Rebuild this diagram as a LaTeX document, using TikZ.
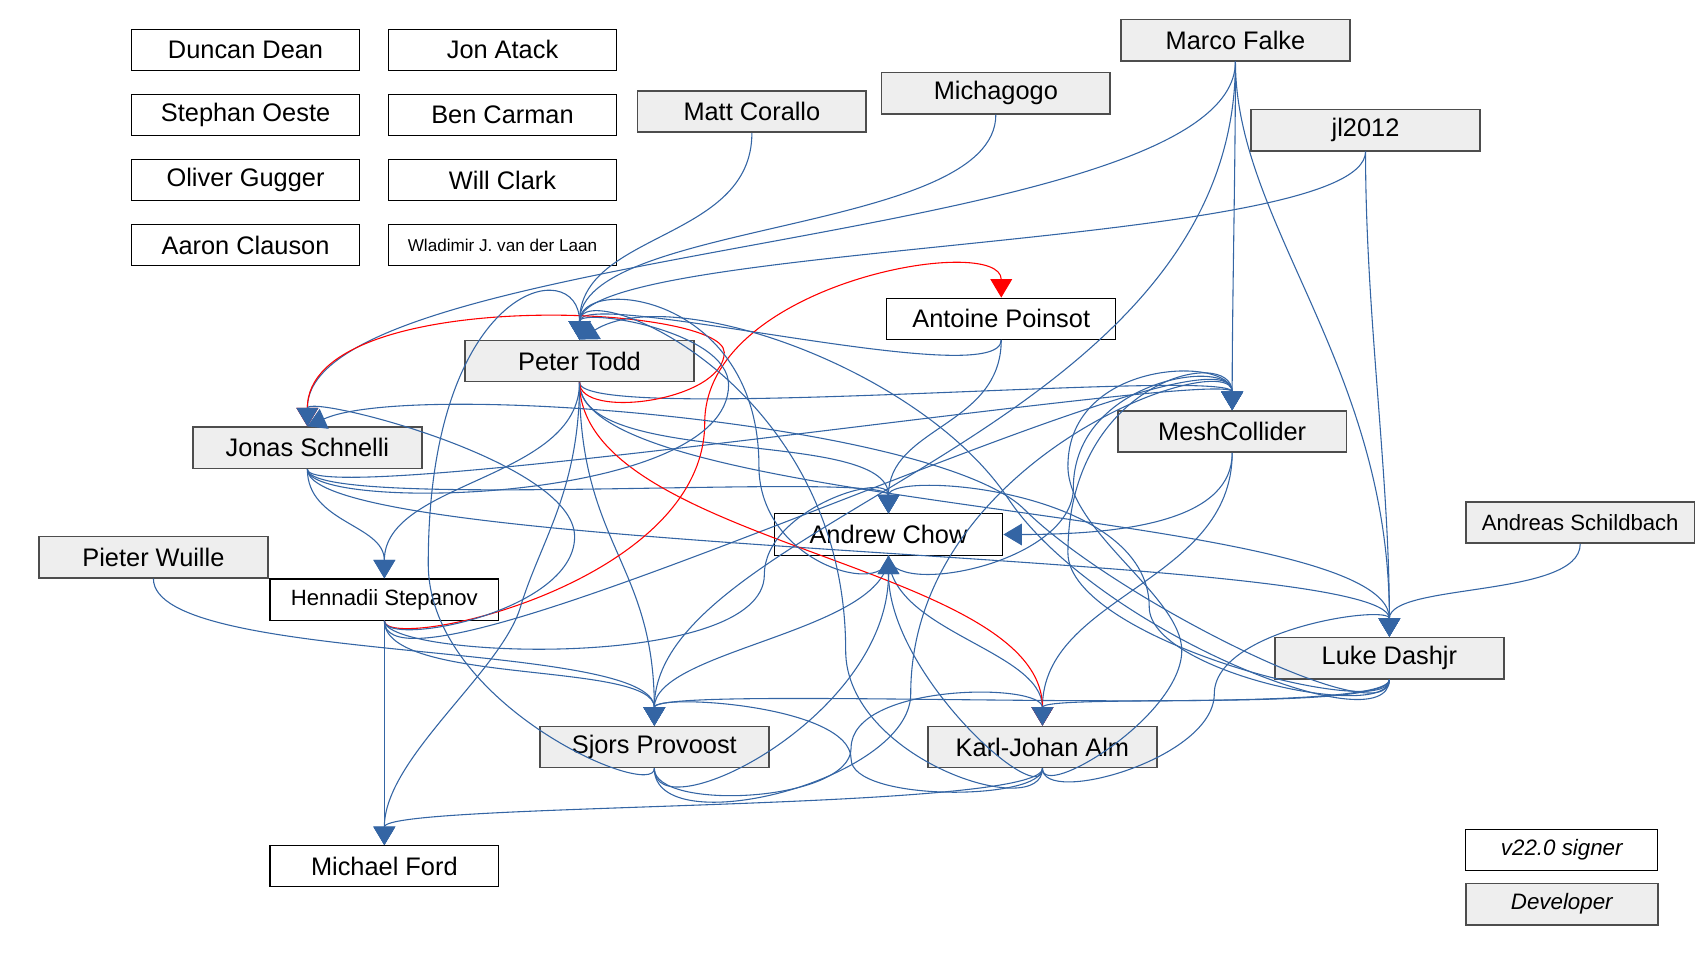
\documentclass[tikz,border=0pt]{standalone}
\usepackage{fontspec}
\setmainfont{Liberation Sans}
\usetikzlibrary{arrows.meta}

\definecolor{edgeblue}{HTML}{3465A4}
\definecolor{devfill}{HTML}{EEEEEE}
\definecolor{devline}{HTML}{4D4D4D}

\tikzset{
  box/.style={rectangle, minimum width=105.5pt, minimum height=19pt, inner sep=0pt, font=\fontsize{11.7}{14}\selectfont},
  dev/.style={box, draw=devline, fill=devfill, line width=0.75pt},
  signer/.style={box, draw=black, fill=white, line width=0.5pt},
  sig/.style={draw=edgeblue, line width=0.5pt, -{Triangle[length=8.5pt,width=10pt]}},
  sigred/.style={sig, draw=red},
}

\begin{document}
\begin{tikzpicture}[x=0.5pt,y=0.5pt]
\useasboundingbox (0,0) rectangle (1568,-882);

\node[signer] (dd) at (226.5,-46) {Duncan Dean};
\node[signer] (ja) at (463.5,-46) {Jon Atack};
\node[signer] (so) at (226.5,-106) {Stephan Oeste};
\node[signer] (bc) at (463.5,-106) {Ben Carman};
\node[signer] (og) at (226.5,-166) {Oliver Gugger};
\node[signer] (wc) at (463.5,-166) {Will Clark};
\node[signer] (acl) at (226.5,-226) {Aaron Clauson};
\node[signer,font=\fontsize{7.9}{9}\selectfont] (wl) at (463.5,-226) {Wladimir J. van der Laan};

\node[dev] (mc) at (693.5,-103) {Matt Corallo};
\node[dev] (mg) at (918.5,-86) {Michagogo};
\node[dev] (mf) at (1139.5,-37) {Marco Falke};
\node[dev] (jl) at (1259.5,-120) {jl2012};
\node[signer] (ap) at (923.5,-294) {Antoine Poinsot};
\node[dev] (pt) at (534.5,-333) {Peter Todd};
\node[dev] (js) at (283.5,-413) {Jonas Schnelli};
\node[dev] (mesh) at (1136.5,-398) {MeshCollider};
\node[signer] (ach) at (819.5,-493) {Andrew Chow};
\node[dev,font=\fontsize{10.2}{12}\selectfont] (asb) at (1457.5,-482) {Andreas Schildbach};
\node[dev] (pw) at (141.5,-514) {Pieter Wuille};
\node[signer,font=\fontsize{10.2}{12}\selectfont] (hs) at (354.5,-553) {Hennadii Stepanov};
\node[dev] (ld) at (1281.5,-607) {Luke Dashjr};
\node[dev] (sp) at (603.5,-689) {Sjors Provoost};
\node[dev] (ka) at (961.5,-689) {Karl-Johan Alm};
\node[signer] (mford) at (354.5,-799) {Michael Ford};

\node[signer,minimum width=88.5pt,font=\fontsize{10.3}{12}\selectfont\itshape] (legs) at (1440.5,-784) {v22.0 signer};
\node[dev,minimum width=88.5pt,font=\fontsize{10.3}{12}\selectfont\itshape] (legd) at (1440.5,-834) {Developer};

\foreach \src/\dst/\da/\db in {mc/pt/100/100, mg/pt/110/110, jl/pt/90/90, ap/pt/50/50,
  mf/js/170/170, mf/mesh/100/100, mf/ld/150/250, mf/sp/344/190, jl/ld/150/150,
  ap/ach/80/80, asb/ld/50/50, pw/sp/80/80, pt/mesh/40/40, pt/ach/80/80, pt/hs/90/90,
  pt/sp/150/150, pt/ld/120/120, js/hs/50/50, js/ach/40/40, js/mesh/40/40, js/ld/80/80,
  hs/mesh/100/100, hs/sp/60/60, hs/mford/60/60, mesh/ka/120/120, ach/ka/70/70,
  ach/sp/70/70, ka/mford/40/40, ld/ka/30/30, ld/sp/40/40}
  \draw[sig] (\src.south) .. controls +(0,-\da) and +(0,\db) .. (\dst.north);

\draw[sigred] (pt.south) .. controls +(0,-35) and +(0,-45) .. (668,-325) .. controls +(0,45) and +(0,130) .. (js.north);
\draw[sigred] (pt.south) .. controls +(0,-150) and +(0,150) .. (ka.north);
\draw[sigred] (hs.south) .. controls +(0,-30) and +(0,-150) .. (650,-390) .. controls +(0,130) and +(0,60) .. (ap.north);

\draw[sig] (pt.south) .. controls +(0,-100) and (498,-500) .. (480,-560) .. controls (462,-620) and +(0,80) .. (mford.north);
\draw[sig] (js.south) .. controls +(0,-40) and +(0,-110) .. (672,-355) .. controls +(0,50) and +(0,30) .. (pt.north);
\draw[sig] (hs.south) .. controls +(0,-25) and +(0,-70) .. (530,-495) .. controls +(0,70) and +(0,30) .. (js.north);
\draw[sig] (hs.south) .. controls +(0,-35) and +(0,-90) .. (705,-530) .. controls +(0,60) and +(0,40) .. (ach.north);
\draw[sig] (mesh.south) .. controls +(0,-60) and +(120,0) .. (ach.east);
\draw[sig] (ach.south) .. controls +(0,-40) and +(0,-90) .. (700,-430) .. controls +(0,160) and +(0,60) .. (pt.north);
\draw[sig] (ach.south) .. controls +(0,-40) and +(0,-70) .. (990,-450) .. controls +(0,100) and +(0,50) .. (mesh.north);
\draw[sig] (sp.south) .. controls +(0,-30) and +(0,-130) .. (395,-520) .. controls +(0,260) and +(0,80) .. (pt.north);
\draw[sig] (sp.south) .. controls +(0,-60) and +(0,-150) .. (ach.south);
\draw[sig] (sp.south) .. controls +(0,-40) and +(0,-50) .. (785,-690) .. controls +(0,60) and +(0,40) .. (ka.north);
\draw[sig] (sp.south) .. controls +(0,-70) and +(0,-80) .. (840,-640) .. controls +(0,220) and +(0,60) .. (mesh.north);
\draw[sig] (ka.south) .. controls +(0,-30) and +(0,-40) .. (785,-700) .. controls +(0,50) and +(0,30) .. (sp.north);
\draw[sig] (ka.south) .. controls +(0,-35) and +(0,-60) .. (1120,-640) .. controls +(0,60) and +(0,30) .. (ld.north);
\draw[sig] (ka.south) .. controls +(0,-30) and +(0,-60) .. (1090,-600) .. controls +(0,50) and +(0,-60) .. (985,-430) .. controls +(0,100) and +(0,50) .. (mesh.north);
\draw[sig] (ka.south) .. controls +(0,-40) and +(0,-110) .. (ach.south);
\draw[sig] (ka.south) .. controls +(0,-50) and +(0,-100) .. (780,-600) .. controls +(0,250) and +(0,60) .. (pt.north);
\draw[sig] (ld.south) .. controls (1281,-680) and (1025,-550) .. (945,-470) .. controls (865,-390) and (380,-350) .. (js.north);
\draw[sig] (ld.south) .. controls (1281,-690) and (1010,-580) .. (930,-460) .. controls (850,-340) and (620,-260) .. (pt.north);
\draw[sig] (ld.south) .. controls +(0,-40) and +(0,-60) .. (1060,-560) .. controls +(0,110) and +(0,40) .. (ach.north);
\draw[sig] (ld.south) .. controls +(0,-40) and +(0,-80) .. (985,-510) .. controls +(0,160) and +(0,60) .. (mesh.north);
\end{tikzpicture}
\end{document}
